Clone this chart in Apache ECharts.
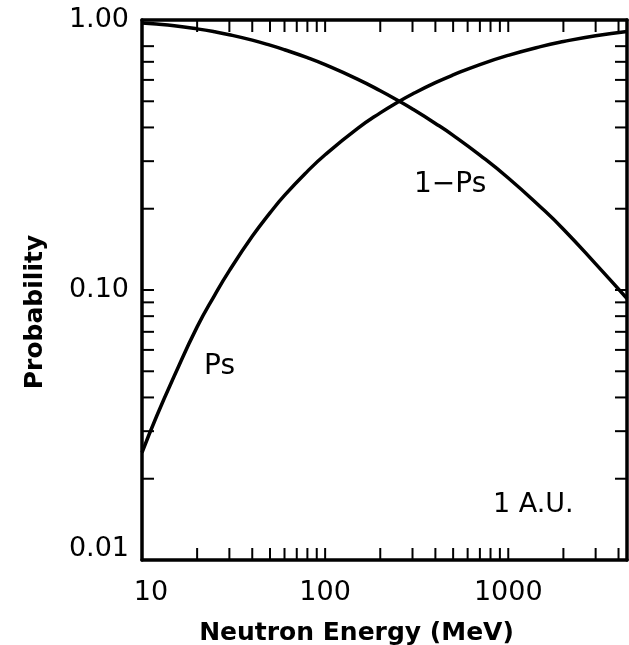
<!DOCTYPE html>
<html>
<head>
<meta charset="utf-8">
<script src="https://cdn.jsdelivr.net/npm/echarts@6/dist/echarts.min.js"></script>
<style>
html,body{margin:0;padding:0;background:#fff;}
#c{width:629px;height:645px;}
</style>
</head>
<body>
<div id="c"></div>
<script>
// Neutron kinetic energy (MeV)
var energy = [10, 12, 15, 20, 25, 30, 40, 50, 60, 80, 100, 150, 200, 250, 300, 400, 500, 700, 1000, 1500, 2000, 3000, 4450];
// Survival probability Ps
var ps = [0.025, 0.034, 0.048, 0.073, 0.096, 0.118, 0.158, 0.193, 0.224, 0.275, 0.317, 0.396, 0.453, 0.497, 0.532, 0.586, 0.626, 0.684, 0.740, 0.797, 0.832, 0.875, 0.907];
// Decay probability 1-Ps
var onePs = [0.975, 0.966, 0.952, 0.927, 0.904, 0.882, 0.842, 0.807, 0.776, 0.725, 0.683, 0.604, 0.547, 0.503, 0.468, 0.414, 0.374, 0.316, 0.260, 0.203, 0.168, 0.125, 0.093];
// Axis ranges and tick marks
var xRange = [10, 4450];
var yRange = [0.01, 1];
var xTickVals = [20, 30, 40, 50, 60, 70, 80, 90, 100, 200, 300, 400, 500, 600, 700, 800, 900, 1000, 2000, 3000, 4000];
var yTickVals = [0.02, 0.03, 0.04, 0.05, 0.06, 0.07, 0.08, 0.09, 0.1, 0.2, 0.3, 0.4, 0.5, 0.6, 0.7, 0.8];
var xLabels = {10: '10', 100: '100', 1000: '1000'};
var yLabels = {0.01: '0.01', 0.1: '0.10', 1: '1.00'};

var FONT = 'DejaVu Sans';
var TICK = 12;

var chart = echarts.init(document.getElementById('c'), null, {renderer: 'canvas'});

function pairs(xs, ys) { return xs.map(function (x, i) { return [x, ys[i]]; }); }

var option = {
  animation: false,
  backgroundColor: '#fff',
  grid: {left: 142, right: 2, top: 20, bottom: 85, containLabel: false, outerBoundsMode: 'none'},
  xAxis: [{
    type: 'log', logBase: 10, min: xRange[0], max: xRange[1],
    name: 'Neutron Energy (MeV)', nameLocation: 'middle', nameGap: 61,
    nameTextStyle: {fontFamily: FONT, fontSize: 25, fontWeight: 'bold', color: '#000', padding: [0, 56, 0, 0]},
    axisLine: {show: true, lineStyle: {color: '#000', width: 3.5}},
    axisTick: {show: false},
    splitLine: {show: false},
    axisLabel: {
      fontFamily: FONT, fontSize: 27, color: '#000', margin: 19,
      showMaxLabel: false,
      formatter: function (v) {
        var s = xLabels[Math.round(v)] || '';
        return Math.round(v) === 10 ? '{s|' + s + '}' : s;
      },
      rich: {s: {fontFamily: FONT, fontSize: 27, color: '#000', padding: [0, 0, 0, 18]}}
    }
  }, {
    type: 'log', logBase: 10, min: xRange[0], max: xRange[1], position: 'top',
    axisLine: {show: true, lineStyle: {color: '#000', width: 3.5}},
    axisTick: {show: false}, axisLabel: {show: false}, splitLine: {show: false}
  }],
  yAxis: [{
    type: 'log', logBase: 10, min: yRange[0], max: yRange[1],
    name: 'Probability', nameLocation: 'middle', nameGap: 94, nameRotate: 90,
    nameTextStyle: {fontFamily: FONT, fontSize: 25, fontWeight: 'bold', color: '#000', padding: [0, 44, 0, 0]},
    axisLine: {show: true, lineStyle: {color: '#000', width: 3.5}},
    axisTick: {show: false},
    splitLine: {show: false},
    axisLabel: {
      fontFamily: FONT, fontSize: 27, color: '#000', margin: 13,
      formatter: function (v) {
        var k = Object.keys(yLabels).filter(function (t) { return Math.abs(+t - v) < 1e-9; })[0];
        if (k === undefined) return '';
        return +k === 0.01 ? '{lo|' + yLabels[k] + '}' : yLabels[k];
      },
      rich: {lo: {fontFamily: FONT, fontSize: 27, color: '#000', padding: [0, 0, 22, 0]}}
    }
  }, {
    type: 'log', logBase: 10, min: yRange[0], max: yRange[1], position: 'right',
    axisLine: {show: true, lineStyle: {color: '#000', width: 3.5}},
    axisTick: {show: false}, axisLabel: {show: false}, splitLine: {show: false}
  }],
  series: [{
    name: 'Ps', type: 'line', data: pairs(energy, ps), smooth: true,
    showSymbol: false, symbol: 'none',
    lineStyle: {color: '#000', width: 3.5}, z: 5
  }, {
    name: '1-Ps', type: 'line', data: pairs(energy, onePs), smooth: true,
    showSymbol: false, symbol: 'none',
    lineStyle: {color: '#000', width: 3.5}, z: 5
  }, {
    name: 'xticks', type: 'custom', clip: false, z: 6,
    data: xTickVals.map(function (v) { return [v, yRange[0]]; }),
    renderItem: function (params, api) {
      var v = api.value(0);
      var b = api.coord([v, yRange[0]]);
      var t = api.coord([v, yRange[1]]);
      return {type: 'group', children: [
        {type: 'line', shape: {x1: b[0], y1: b[1], x2: b[0], y2: b[1] - TICK}, style: {stroke: '#000', lineWidth: 2}},
        {type: 'line', shape: {x1: t[0], y1: t[1], x2: t[0], y2: t[1] + TICK}, style: {stroke: '#000', lineWidth: 2}}
      ]};
    }
  }, {
    name: 'yticks', type: 'custom', clip: false, z: 6,
    data: yTickVals.map(function (v) { return [xRange[0], v]; }),
    renderItem: function (params, api) {
      var v = api.value(1);
      var l = api.coord([xRange[0], v]);
      var r = api.coord([xRange[1], v]);
      return {type: 'group', children: [
        {type: 'line', shape: {x1: l[0], y1: l[1], x2: l[0] + TICK, y2: l[1]}, style: {stroke: '#000', lineWidth: 2}},
        {type: 'line', shape: {x1: r[0], y1: r[1], x2: r[0] - TICK, y2: r[1]}, style: {stroke: '#000', lineWidth: 2}}
      ]};
    }
  }],
  graphic: [
    {type: 'text', left: 204, top: 353, style: {text: 'Ps', font: '28px "DejaVu Sans"', fill: '#000'}},
    {type: 'text', left: 414, top: 171, style: {text: '1\u2212Ps', font: '28px "DejaVu Sans"', fill: '#000'}},
    {type: 'text', left: 493, top: 491, style: {text: '1 A.U.', font: '27px "DejaVu Sans"', fill: '#000'}}
  ]
};
chart.setOption(option);
</script>
</body>
</html>
